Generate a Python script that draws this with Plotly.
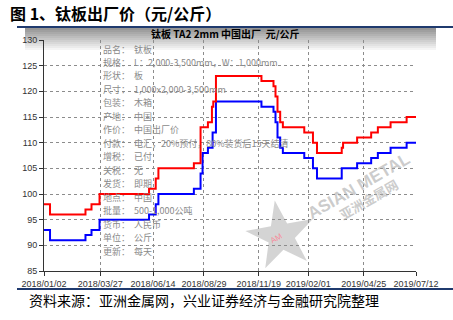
import math
import plotly.graph_objects as go

# ---- data ----
red_dates = ["2018-01-02", "2018-01-11", "2018-03-05", "2018-03-14", "2018-03-26",
             "2018-06-08", "2018-06-18", "2018-06-22", "2018-08-14", "2018-08-24",
             "2018-09-04", "2018-09-10", "2018-09-12", "2018-09-16", "2018-11-23",
             "2018-12-11", "2018-12-14", "2018-12-17", "2018-12-21", "2018-12-25",
             "2019-01-26", "2019-02-08", "2019-02-14", "2019-03-23", "2019-03-25",
             "2019-04-15", "2019-05-06", "2019-05-16", "2019-06-04", "2019-06-28",
             "2019-07-12"]
red_values = [98, 96, 97, 98, 100,
              101, 103, 105, 106, 113,
              114, 117, 118, 123, 122,
              121, 119, 116, 114, 113,
              112, 110, 108, 109, 110,
              111, 112, 113, 114, 115,
              115]

blue_dates = ["2018-01-02", "2018-01-11", "2018-03-05", "2018-03-14", "2018-03-26",
              "2018-06-08", "2018-06-18", "2018-06-22", "2018-08-14", "2018-08-24",
              "2018-08-27", "2018-09-04", "2018-09-11", "2018-09-16", "2018-11-23",
              "2018-12-11", "2018-12-14", "2018-12-17", "2018-12-21", "2018-12-25",
              "2019-01-26", "2019-02-08", "2019-02-14", "2019-03-23", "2019-04-15",
              "2019-05-06", "2019-05-16", "2019-06-04", "2019-06-28", "2019-07-12"]
blue_values = [93, 91, 92, 93, 95,
               96, 98, 100, 101, 104,
               108, 109, 112, 118, 117,
               116, 114, 111, 109, 108,
               107, 105, 103, 105, 106,
               107, 108, 109, 110, 110]

tick_dates = ["2018-01-02", "2018-03-27", "2018-06-14", "2018-08-29", "2018-11-19",
              "2019-02-01", "2019-04-25", "2019-07-12"]
tick_labels = ["2018/01/02", "2018/03/27", "2018/06/14", "2018/08/29", "2018/11/19",
               "2019/02/01", "2019/04/25", "2019/07/12"]
y_ticks = [85, 90, 95, 100, 105, 110, 115, 120, 125, 130]

info_labels = ["品名：", "规格：", "形状：", "尺寸：", "包装：", "产地：", "作价：", "付款：",
               "增税：", "关税：", "发货：", "地点：", "批量：", "货币：", "单位：", "更新："]
info_values = ["钛板", "L：2,000-3,500mm，W：1,000mm", "板", "1,000x2,000-3,500mm", "木箱",
               "中国", "中国出厂价", "电汇，20%预付，80%装货后15天结清", "已付", "无", "即期",
               "中国", "500-1,000公吨", "人民币", "公斤", "每天"]

title_text = "图 1、钛板出厂价（元/公斤）"
chart_title = "钛板 TA2 2mm 中国出厂  元/公斤"
source_text = "资料来源：亚洲金属网，兴业证券经济与金融研究院整理"

# ---- layout geometry (pixels) ----
W, H = 453, 320
L, R, T, B = 44, 416, 40, 271
PW, PH = R - L, B - T


def px(x):
    return (x - L) / PW


def py(y):
    return (B - y) / PH


fig = go.Figure()
fig.add_trace(go.Scatter(x=blue_dates, y=blue_values, mode="lines", line_shape="hv",
                         line=dict(color="#0000ff", width=2), hoverinfo="skip"))
fig.add_trace(go.Scatter(x=red_dates, y=red_values, mode="lines", line_shape="hv",
                         line=dict(color="#ff0000", width=2), hoverinfo="skip"))

shapes = []
# gradient header band
n = 12
for i in range(n):
    t = i / (n - 1)
    g = int(150 + (255 - 150) * t)
    y0 = 28 + i * 2
    shapes.append(dict(type="rect", xref="paper", yref="paper", layer="below",
                       x0=px(25), x1=px(436), y0=py(y0 + 2), y1=py(y0),
                       fillcolor=f"rgb({g},{g},{g})", line=dict(width=0)))
# navy rules
for yy in (27, 289):
    shapes.append(dict(type="line", xref="paper", yref="paper",
                       x0=px(17), x1=px(453), y0=py(yy), y1=py(yy),
                       line=dict(color="#1f3a6e", width=2)))
# watermark star
cx, cy, ro, ri = 281, 236, 36, 14
pts = []
for k in range(10):
    ang = math.radians(-100 + k * 36)
    r = ro if k % 2 == 0 else ri
    pts.append((cx + r * math.cos(ang), cy + r * math.sin(ang)))
path = "M " + " L ".join(f"{px(a):.4f},{py(b):.4f}" for a, b in pts) + " Z"
shapes.append(dict(type="path", xref="paper", yref="paper", path=path, layer="below",
                   fillcolor="rgba(160,160,160,0.45)", line=dict(width=0)))

annotations = []
annotations.append(dict(text="<b>" + title_text + "</b>", xref="paper", yref="paper",
                        x=px(8), y=py(13),
                        xanchor="left", yanchor="middle", showarrow=False,
                        font=dict(family="Noto Sans CJK SC", size=16, color="#000")))
annotations.append(dict(text="<b>" + chart_title + "</b>", xref="paper", yref="paper",
                        x=px(225), y=py(33), xanchor="center", yanchor="middle",
                        showarrow=False,
                        font=dict(family="Noto Sans CJK SC", size=10, color="#000")))
annotations.append(dict(text=source_text, xref="paper", yref="paper", x=px(27), y=py(300),
                        xanchor="left", yanchor="middle", showarrow=False,
                        font=dict(family="Noto Sans CJK SC", size=14, color="#000")))
step = (251 - 49) / (len(info_labels) - 1)
for i, (lab, val) in enumerate(zip(info_labels, info_values)):
    yy = 49 + i * step
    annotations.append(dict(text=lab, xref="paper", yref="paper", x=px(101), y=py(yy),
                            xanchor="left", yanchor="middle", showarrow=False,
                            font=dict(family="Noto Sans CJK SC", size=9, color="#8a8a8a")))
    annotations.append(dict(text=val, xref="paper", yref="paper", x=px(132), y=py(yy),
                            xanchor="left", yanchor="middle", showarrow=False,
                            font=dict(family="Noto Sans CJK SC", size=9, color="#8a8a8a")))
# watermark text
annotations.append(dict(text="<b>ASIAN METAL</b>", xref="paper", yref="paper",
                        x=px(358), y=py(186), xanchor="center", yanchor="middle",
                        textangle=-30, showarrow=False,
                        font=dict(family="Liberation Sans", size=17, color="rgba(170,170,170,0.6)")))
annotations.append(dict(text="<b>亚洲金属网</b>", xref="paper", yref="paper",
                        x=px(368), y=py(199), xanchor="center", yanchor="middle",
                        textangle=-30, showarrow=False,
                        font=dict(family="Noto Sans CJK SC", size=13, color="rgba(170,170,170,0.6)")))
annotations.append(dict(text="AM", xref="paper", yref="paper",
                        x=px(276), y=py(238), xanchor="center", yanchor="middle",
                        textangle=-30, showarrow=False,
                        font=dict(family="Liberation Sans", size=8, color="rgba(255,120,140,0.8)")))

fig.update_layout(
    width=W, height=H,
    margin=dict(l=L, r=W - R, t=T, b=H - B, pad=0),
    paper_bgcolor="white", plot_bgcolor="white",
    showlegend=False,
    shapes=shapes, annotations=annotations,
    xaxis=dict(type="date", range=[tick_dates[0], tick_dates[-1]],
               tickvals=tick_dates, ticktext=tick_labels,
               showgrid=True, gridcolor="#8c8c8c", griddash="dot", gridwidth=1,
               showline=True, linecolor="#333", linewidth=1,
               ticks="outside", ticklen=4, tickcolor="#333",
               tickfont=dict(family="Liberation Sans", size=9, color="#333"),
               zeroline=False, automargin=False, fixedrange=True),
    yaxis=dict(range=[85, 130], tickvals=y_ticks,
               showgrid=True, gridcolor="#8c8c8c", griddash="dot", gridwidth=1,
               showline=True, linecolor="#333", linewidth=1,
               ticks="outside", ticklen=4, tickcolor="#333",
               tickfont=dict(family="Liberation Sans", size=9, color="#333"),
               zeroline=False, automargin=False, fixedrange=True),
)

fig.write_html("out.html")
